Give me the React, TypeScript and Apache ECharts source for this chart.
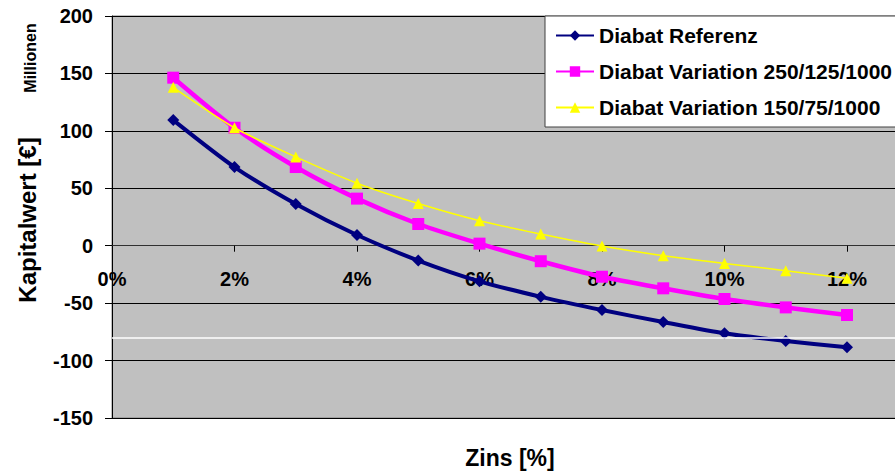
import React, { useEffect, useRef } from "react";
import * as echarts from "echarts";

const zinsProzent = [1, 2, 3, 4, 5, 6, 7, 8, 9, 10, 11, 12];
const diabatReferenz = [109.4, 68.5, 36.3, 9.3, -12.9, -31, -44.5, -56, -66.4, -76.3, -83, -88.5];
const diabatVariation250 = [146.3, 102.7, 68.5, 41, 18.9, 1.8, -13.5, -27, -37.1, -46.4, -53.7, -60.3];
const diabatVariation150 = [137.9, 102.7, 77.3, 54.4, 36.7, 21.7, 10.2, -0.3, -8.7, -15.4, -21.7, -28.4];
const seriesNames = ["Diabat Referenz", "Diabat Variation 250/125/1000", "Diabat Variation 150/75/1000"];
const whiteLineValue = -80;

const FONT = 'Arial, "Liberation Sans", sans-serif';

export default function App() {
  const ref = useRef<HTMLDivElement>(null);
  useEffect(() => {
    if (!ref.current) return;
    const chart = echarts.init(ref.current, undefined, { renderer: "svg" });
    const pairs = (vals: number[]) => zinsProzent.map((x, i) => [x, vals[i]]);
    chart.setOption({
      animation: false,
      textStyle: { fontFamily: FONT },
      grid: {
        left: 112,
        top: 16,
        width: 857.5,
        height: 402,
        show: true,
        backgroundColor: "#C0C0C0",
        borderColor: "#808080",
        borderWidth: 1,
        containLabel: false,
        outerBoundsMode: "none",
      },
      xAxis: {
        type: "value",
        min: 0,
        max: 14,
        interval: 2,
        offset: -172.3,
        axisLine: { onZero: false, lineStyle: { color: "#303030", width: 1.2 } },
        axisTick: { show: true, length: 6, inside: false, lineStyle: { color: "#000" } },
        axisLabel: {
          margin: 23,
          fontSize: 20,
          fontWeight: "bold",
          color: "#000",
          fontFamily: FONT,
          showMaxLabel: false,
          formatter: (v: number) => (v > 12 ? "" : v + "%"),
        },
        splitLine: { show: false },
      },
      yAxis: {
        type: "value",
        min: -150,
        max: 200,
        interval: 50,
        axisLine: { show: true, onZero: false, lineStyle: { color: "#000", width: 1 } },
        axisTick: { show: true, length: 7, lineStyle: { color: "#000" } },
        axisLabel: {
          margin: 19,
          fontSize: 20,
          fontWeight: "bold",
          color: "#000",
          fontFamily: FONT,
        },
        splitLine: { show: true, lineStyle: { color: "#000", width: 1 } },
      },
      legend: {
        data: seriesNames,
        orient: "vertical",
        left: 545,
        top: 16,
        backgroundColor: "#FFFFFF",
        borderColor: "#404040",
        borderWidth: 1,
        borderRadius: 0,
        padding: [9, 24, 9, 10],
        itemGap: 15,
        itemWidth: 38,
        itemHeight: 13,
        textStyle: { fontSize: 21, fontWeight: "bold", color: "#000", fontFamily: FONT },
      },
      graphic: [
        {
          type: "text",
          x: 510,
          y: 458,
          style: {
            text: "Zins [%]",
            fontSize: 23,
            fontWeight: "bold",
            fill: "#000",
            fontFamily: FONT,
            align: "center",
            verticalAlign: "middle",
          },
        },
        {
          type: "text",
          x: 27,
          y: 220,
          rotation: Math.PI / 2,
          style: {
            text: "Kapitalwert [€]",
            fontSize: 24,
            fontWeight: "bold",
            fill: "#000",
            fontFamily: FONT,
            align: "center",
            verticalAlign: "middle",
          },
        },
        {
          type: "text",
          x: 30,
          y: 58,
          rotation: Math.PI / 2,
          style: {
            text: "Millionen",
            fontSize: 16,
            fontWeight: "bold",
            fill: "#000",
            fontFamily: FONT,
            align: "center",
            verticalAlign: "middle",
          },
        },
      ],
      series: [
        {
          type: "line",
          name: "whiteLine",
          data: [],
          z: 1,
          silent: true,
          markLine: {
            silent: true,
            symbol: "none",
            label: { show: false },
            lineStyle: { color: "#FFFFFF", width: 1.5, type: "solid" },
            data: [{ yAxis: whiteLineValue }],
          },
        },
        {
          type: "line",
          name: seriesNames[0],
          data: pairs(diabatReferenz),
          smooth: 0.25,
          symbol: "diamond",
          symbolSize: 12,
          z: 3,
          lineStyle: { color: "#000080", width: 4 },
          itemStyle: { color: "#000080" },
        },
        {
          type: "line",
          name: seriesNames[1],
          data: pairs(diabatVariation250),
          smooth: 0.25,
          symbol: "rect",
          symbolSize: 12,
          z: 4,
          lineStyle: { color: "#FF00FF", width: 4.5 },
          itemStyle: { color: "#FF00FF" },
        },
        {
          type: "line",
          name: seriesNames[2],
          data: pairs(diabatVariation150),
          smooth: 0.25,
          symbol: "triangle",
          symbolSize: 11,
          z: 5,
          lineStyle: { color: "#FFFF00", width: 1.5 },
          itemStyle: { color: "#FFFF00" },
        },
      ],
    });
    return () => chart.dispose();
  }, []);
  return (
    <div
      ref={ref}
      style={{ position: "absolute", left: 0, top: 0, width: 895, height: 471 }}
    />
  );
}
